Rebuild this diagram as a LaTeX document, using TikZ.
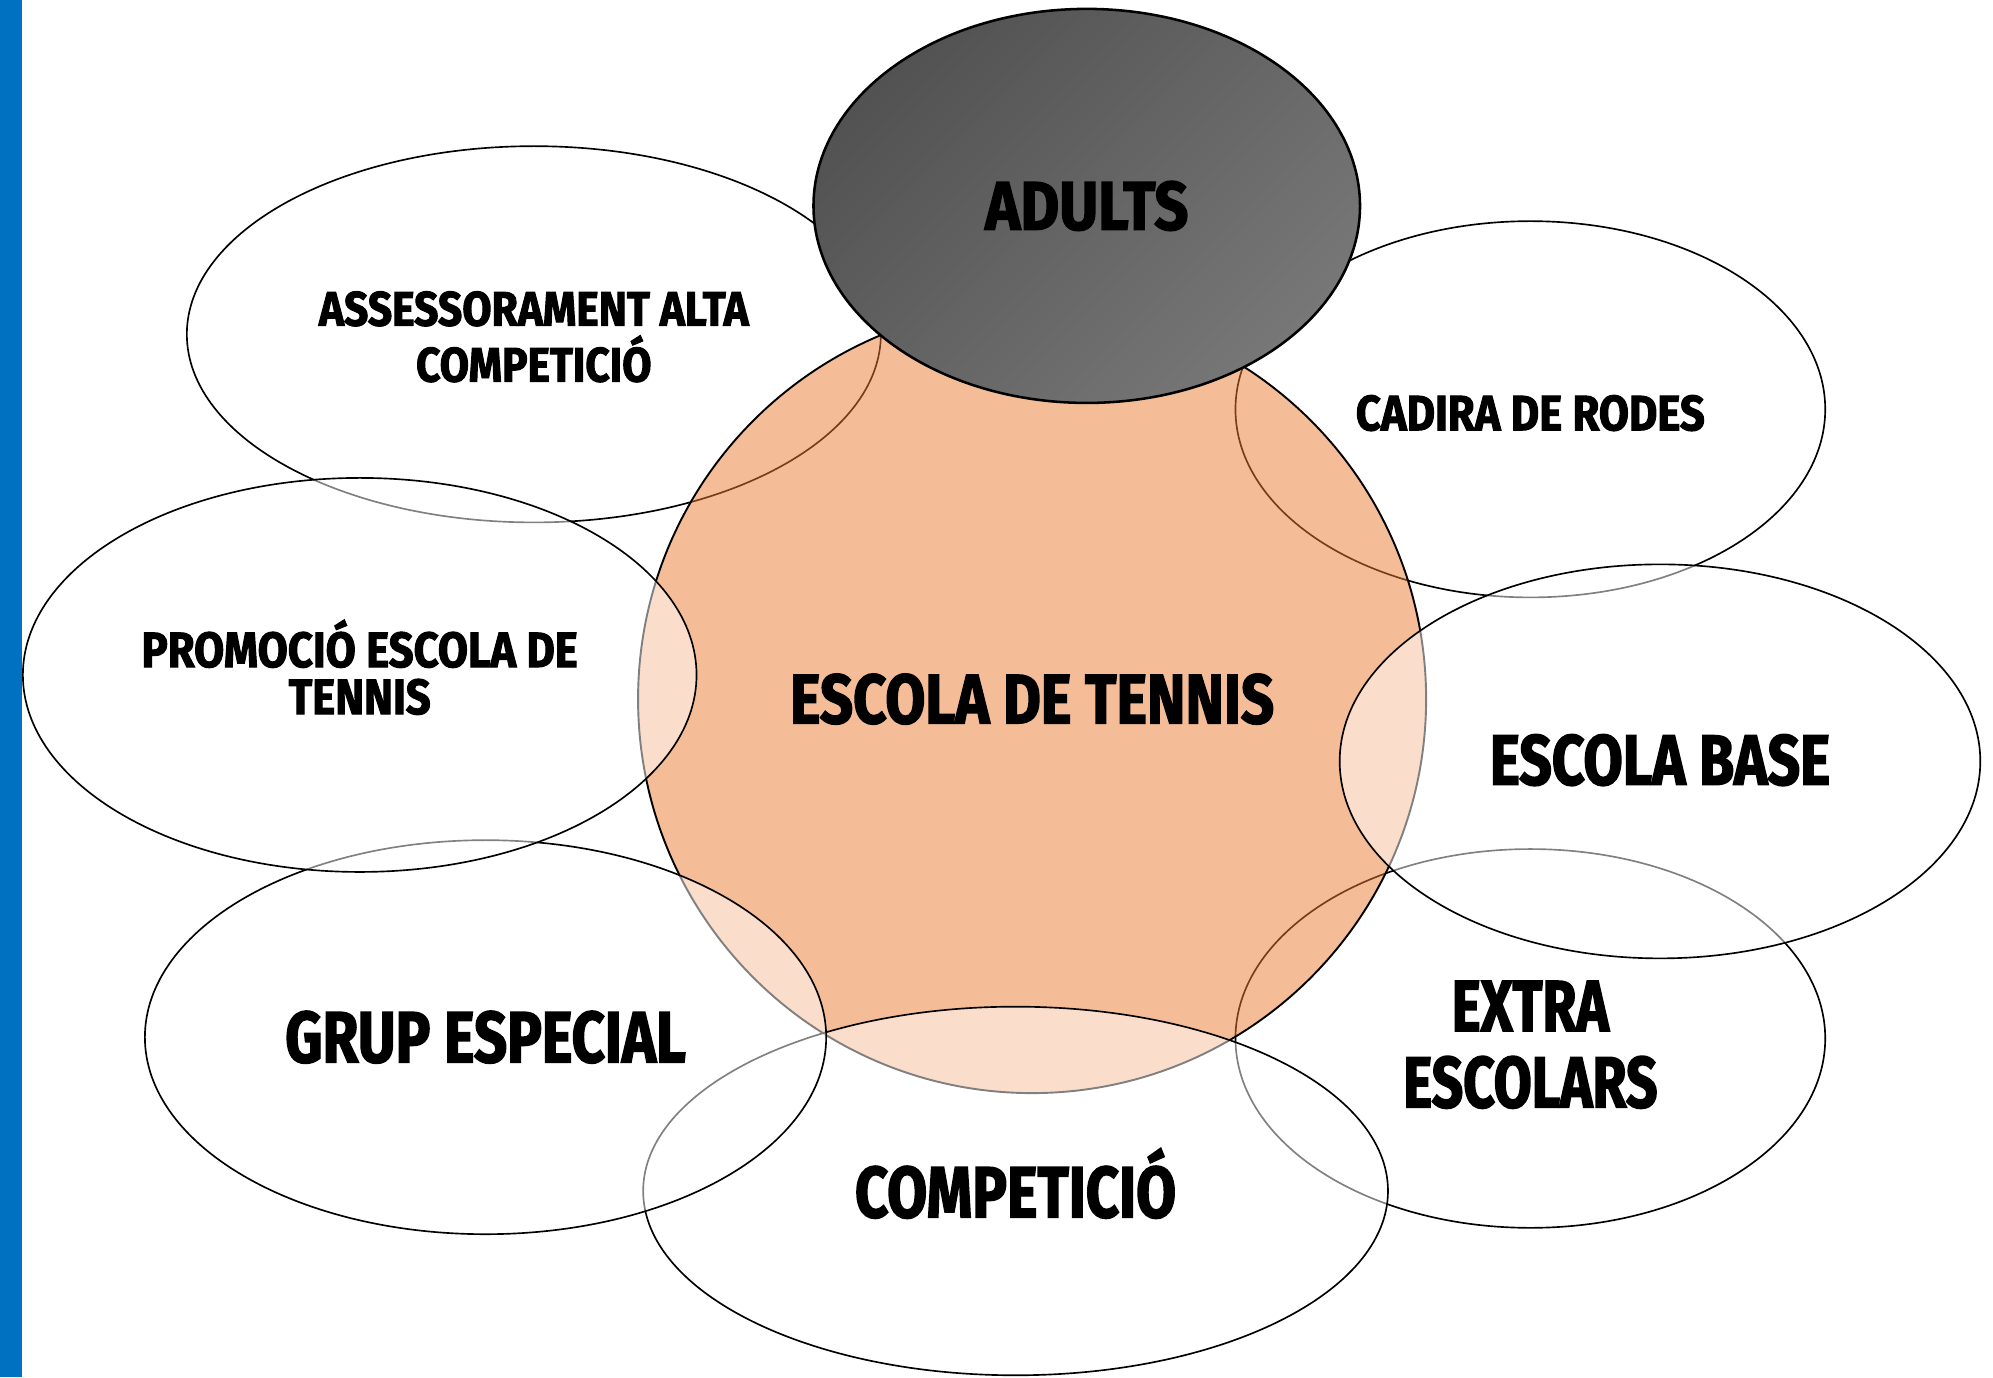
\documentclass[tikz,border=0pt]{standalone}
\usepackage{fontspec}
\newfontfamily\fBig{Fira Sans}[FakeStretch=0.8, FakeBold=2]
\newfontfamily\fWide{Fira Sans}[FakeStretch=0.83, FakeBold=2]
\newfontfamily\fNarrow{Fira Sans}[FakeStretch=0.76, FakeBold=2]
\newfontfamily\fSmall{Fira Sans}[FakeStretch=0.88, FakeBold=2]
\newfontfamily\fTop{Fira Sans}[FakeStretch=0.87, FakeBold=2]
\usetikzlibrary{shapes.geometric}
\definecolor{barblue}{HTML}{0070C0}
\definecolor{barline}{HTML}{3A5A9A}
\definecolor{orangeA}{HTML}{ED7D31}
\definecolor{grayTL}{HTML}{525252}
\definecolor{grayBR}{HTML}{777777}
\begin{document}
\begin{tikzpicture}[x=1pt,y=-1pt,
  bubble/.style={ellipse, draw=black, line width=1.3pt, inner sep=0pt},
  under/.style={bubble, fill=white},
  over/.style={bubble, fill=white, fill opacity=0.5, draw opacity=1},
  label/.style={inner sep=0pt, align=center, text=black},
]
\useasboundingbox (0,0) rectangle (1568,1083.4);
\fill[white] (0,0) rectangle (1568,1083.4);
\fill[barblue] (0,0) rectangle (17,1083.4);
\draw[barline, line width=1pt] (17,0) -- (17,1083.4);

% ellipses beneath the central circle
\node[under, minimum width=546pt, minimum height=296pt] (aac) at (420,263) {};
\node[under, minimum width=464pt, minimum height=296pt] (cdr) at (1204,322) {};
\node[under, minimum width=464pt, minimum height=298pt] (ext) at (1204,817) {};

% central circle
\node[ellipse, draw=black, line width=1.5pt, fill=orangeA, fill opacity=0.5,
  draw opacity=1, inner sep=0pt,
  minimum width=620pt, minimum height=620pt] (edt) at (812,550) {};

% ellipses above the central circle
\node[over, minimum width=504pt, minimum height=310pt] (eba) at (1306,599) {};
\node[over, minimum width=586pt, minimum height=290pt] (cmp) at (799,937) {};
\node[over, minimum width=536pt, minimum height=310pt] (gru) at (382,816) {};
\node[over, minimum width=530pt, minimum height=310pt] (pro) at (283,531) {};

% top ellipse
\node[bubble, line width=2pt, top color=grayTL, bottom color=grayBR,
  shading angle=45, minimum width=430pt, minimum height=310pt] (adu) at (855,162) {};

% labels
\node[label, font=\fSmall\bfseries\fontsize{38}{44}\selectfont, yshift=-2pt]
  (aac-t) at (aac.center) {ASSESSORAMENT ALTA\\COMPETICIÓ};
\node[label, font=\fSmall\bfseries\fontsize{39}{44}\selectfont, yshift=-3pt]
  (cdr-t) at (cdr.center) {CADIRA DE RODES};
\node[label, font=\fNarrow\bfseries\fontsize{57}{60}\selectfont, yshift=-5pt]
  (ext-t) at (ext.center) {EXTRA\\ESCOLARS};
\node[label, font=\fWide\bfseries\fontsize{55}{60}\selectfont]
  (edt-t) at (edt.center) {ESCOLA DE TENNIS};
\node[label, font=\fBig\bfseries\fontsize{56}{60}\selectfont, yshift=1pt]
  (eba-t) at (eba.center) {ESCOLA BASE};
\node[label, font=\fBig\bfseries\fontsize{57}{60}\selectfont, yshift=6pt]
  (cmp-t) at (cmp.center) {COMPETICIÓ};
\node[label, font=\fBig\bfseries\fontsize{57}{60}\selectfont]
  (gru-t) at (gru.center) {GRUP ESPECIAL};
\node[label, font=\fSmall\bfseries\fontsize{39}{37}\selectfont, yshift=6pt]
  (pro-t) at (pro.center) {PROMOCIÓ ESCOLA DE\\TENNIS};
\node[label, font=\fTop\bfseries\fontsize{54}{60}\selectfont]
  (adu-t) at (adu.center) {ADULTS};
\end{tikzpicture}
\end{document}
